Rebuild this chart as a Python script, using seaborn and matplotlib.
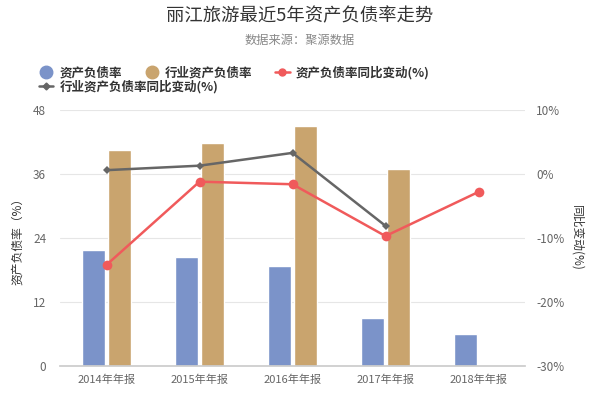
import matplotlib
matplotlib.use("Agg")
import matplotlib.pyplot as plt
import seaborn as sns
import numpy as np
import pandas as pd
from matplotlib.lines import Line2D
from matplotlib.ticker import FuncFormatter

categories = ["2014年年报", "2015年年报", "2016年年报", "2017年年报", "2018年年报"]
debt_ratio = [21.8, 20.4, 18.8, 9.0, 6.0]
industry_ratio = [40.5, 41.8, 45.0, 36.9, np.nan]
debt_yoy = [-14.2, -1.2, -1.6, -9.7, -2.8]
industry_yoy = [0.6, 1.3, 3.3, -8.1, np.nan]

s_debt = "资产负债率"
s_ind = "行业资产负债率"
s_debt_yoy = "资产负债率同比变动(%)"
s_ind_yoy = "行业资产负债率同比变动(%)"

sns.set_theme(style="white")
plt.rcParams['font.family'] = ['Noto Sans CJK SC', 'DejaVu Sans']
plt.rcParams['axes.unicode_minus'] = False

c_blue = "#7b93c9"
c_tan = "#c9a46e"
c_red = "#f05a5b"
c_gray = "#666666"

bars = pd.DataFrame({
    "cat": categories * 2,
    "val": debt_ratio + industry_ratio,
    "series": [s_debt] * 5 + [s_ind] * 5,
})

fig = plt.figure(figsize=(6, 4), dpi=100)
ax = fig.add_axes([0.1, 0.085, 0.775, 0.64])
sns.barplot(data=bars, x="cat", y="val", hue="series", order=categories,
            hue_order=[s_debt, s_ind], palette=[c_blue, c_tan],
            width=0.56, gap=0.15, legend=False, ax=ax, saturation=1)
ax.set_ylim(0, 48)
ax.set_yticks([0, 12, 24, 36, 48])
ax.set_xlim(-0.5, 4.5)
ax.yaxis.grid(True, color="#e6e6e6", linewidth=0.8)
ax.set_axisbelow(True)
for sp in ["left", "right", "top"]:
    ax.spines[sp].set_visible(False)
ax.spines["bottom"].set_color("#cccccc")
ax.set_xlabel("")
ax.set_ylabel("资产负债率（%）", fontsize=8.5, color="#333333", labelpad=6)
ax.tick_params(axis="x", which="major", length=0, labelsize=8, labelcolor="#666666", pad=6)
ax.set_xticks(np.arange(-0.5, 5.0, 1.0), minor=True)
ax.tick_params(axis="x", which="minor", length=5, color="#cccccc", direction="out")
ax.tick_params(axis="y", length=0, labelsize=8.5, labelcolor="#666666", pad=10)

ax2 = ax.twinx()
lines = pd.DataFrame({"pos": np.arange(len(categories)), "debt": debt_yoy, "ind": industry_yoy})
sns.lineplot(data=lines, x="pos", y="ind", color=c_gray, marker="D", markersize=4.5,
             markeredgewidth=0, linewidth=1.8, ax=ax2)
sns.lineplot(data=lines, x="pos", y="debt", color=c_red, marker="o", markersize=7,
             markeredgewidth=0, linewidth=1.8, ax=ax2)
ax2.set_ylim(-30, 10)
ax2.set_yticks([-30, -20, -10, 0, 10])
ax2.yaxis.set_major_formatter(FuncFormatter(lambda v, p: f"{int(v)}%"))
ax2.set_xlim(-0.5, 4.5)
for sp in ["left", "right", "top", "bottom"]:
    ax2.spines[sp].set_visible(False)
ax2.tick_params(axis="y", length=0, labelsize=8.5, labelcolor="#666666", pad=8)
ax2.set_ylabel("同比变动(%)", fontsize=8.5, color="#333333", rotation=-90, labelpad=14)
ax2.set_xlabel("")

fig.text(0.5, 0.96, "丽江旅游最近5年资产负债率走势", ha="center", va="center",
         fontsize=13.2, color="#333333")
fig.text(0.5, 0.9, "数据来源：聚源数据", ha="center", va="center",
         fontsize=8.8, color="#888888")

h1 = Line2D([], [], linestyle="none", marker="o", markersize=9, color=c_blue)
h2 = Line2D([], [], linestyle="none", marker="o", markersize=9, color=c_tan)
h3 = Line2D([], [], color=c_red, marker="o", markersize=5, linewidth=1.8)
h4 = Line2D([], [], color=c_gray, marker="D", markersize=3.5, linewidth=1.8)
leg_kw = dict(frameon=False, handlelength=1.15, handletextpad=0.5,
              borderpad=0, borderaxespad=0,
              prop={"weight": "bold", "size": 9}, labelcolor="#333333")
fig.legend([h1, h2, h3], [s_debt, s_ind, s_debt_yoy], ncol=3, loc="center left",
           bbox_to_anchor=(0.065, 0.8175), columnspacing=1.8, **leg_kw)
fig.legend([h4], [s_ind_yoy], loc="center left", bbox_to_anchor=(0.065, 0.7825), **leg_kw)

fig.savefig("out.png", dpi=100)
